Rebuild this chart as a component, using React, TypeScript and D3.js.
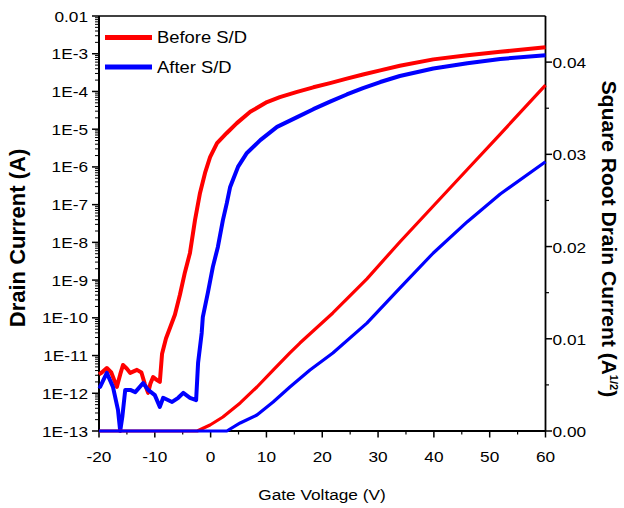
import React from "react";
import * as d3 from "d3";

// ---------- data ----------
const redLogV = [-20,-19.5,-18.6,-17.8,-16.8,-16.2,-15.7,-15.0,-14.4,-13.2,-12.4,-11.8,-11.2,-10.8,-10.3,-9.6,-9.1,-8.7,-8.0,-6.4,-5.5,-4.6,-3.7,-2.8,-1.9,-1.0,-0.1,1.15,2.9,4.7,7.1,10.1,12.4,15.5,18.4,21.4,24.4,27.3,30.4,33.9,39.9,46.0,51.9,60];
const redLogI = [-11.5,-11.45,-11.33,-11.45,-11.83,-11.5,-11.25,-11.35,-11.46,-11.38,-11.45,-11.75,-11.99,-11.75,-11.57,-11.65,-11.70,-10.95,-10.55,-9.92,-9.39,-8.79,-8.28,-7.41,-6.69,-6.16,-5.74,-5.37,-5.10,-4.84,-4.54,-4.28,-4.15,-4.01,-3.89,-3.78,-3.66,-3.55,-3.44,-3.32,-3.15,-3.04,-2.95,-2.83];
const blueLogV = [-20,-19.8,-18.6,-17.5,-16.6,-16.2,-15.8,-15.3,-14.4,-13.5,-12.1,-11.2,-10.0,-9.1,-8.5,-6.9,-5.8,-4.9,-3.7,-2.6,-2.25,-1.6,-1.4,-0.5,0.4,1.3,2.2,2.9,3.5,4.9,6.5,8.9,11.9,15.5,18.4,21.4,24.4,27.3,30.4,33.9,39.9,46.0,51.9,60];
const blueLogI = [-11.8,-11.83,-11.46,-11.83,-12.44,-13,-12.6,-11.91,-11.91,-11.97,-11.73,-11.91,-12.05,-12.36,-12.12,-12.23,-12.12,-11.99,-12.12,-12.18,-11.2,-10.4,-9.98,-9.34,-8.65,-8.12,-7.41,-6.96,-6.53,-6.00,-5.63,-5.29,-4.94,-4.68,-4.47,-4.27,-4.08,-3.91,-3.75,-3.59,-3.39,-3.25,-3.14,-3.04];
const redSqrtV = [-20,-2.4,-0.1,2.2,5.3,8.3,11.2,14.2,16.0,21.9,28.0,33.9,39.9,45.9,51.9,60];
const redSqrt = [0,0,0.00065,0.00152,0.00304,0.00477,0.00661,0.00846,0.00954,0.0128,0.0165,0.0205,0.0244,0.0283,0.0322,0.0375];
const blueSqrtV = [-20,2.9,5.3,8.3,11.2,14.2,17.8,21.9,28.0,33.9,39.9,46.0,51.9,60];
const blueSqrt = [0,0,0.00087,0.00174,0.00314,0.00477,0.00661,0.00846,0.0117,0.0155,0.0193,0.0227,0.0257,0.0292];

const xTicks = [-20,-10,0,10,20,30,40,50,60];
const xMinor = [-15,-5,5,15,25,35,45,55];
const leftTickExp = [-2,-3,-4,-5,-6,-7,-8,-9,-10,-11,-12,-13];
const leftTickLabels = ["0.01","1E-3","1E-4","1E-5","1E-6","1E-7","1E-8","1E-9","1E-10","1E-11","1E-12","1E-13"];
const rightTicks = [0,0.01,0.02,0.03,0.04];
const rightTickLabels = ["0.00","0.01","0.02","0.03","0.04"];
const rightMinor = [0.005,0.015,0.025,0.035];
const seriesNames = ["Before S/D","After S/D"];
const seriesColors = ["#ff0000","#0000ff"];

const FONT = "'Liberation Sans', Arial, sans-serif";

function T({x,y,anchor="start",size=15,sx=1.15,children,weight="normal"}:any){
  return <text transform={`translate(${x},${y}) scale(${sx},1)`} textAnchor={anchor} fontSize={size} fontFamily={FONT} fontWeight={weight} fill="#000">{children}</text>;
}

export default function App(){
  const L=99, R=545.5, TOP=16, B=431;
  const x = d3.scaleLinear().domain([-20,60]).range([L,R]);
  const yL = d3.scaleLog().domain([1e-13,1e-2]).range([B,TOP]);
  const yR = d3.scaleLinear().domain([0,0.045]).range([B,TOP]);

  const logLine = d3.line<[number,number]>().x(d=>x(d[0])).y(d=>yL(Math.pow(10,d[1])));
  const sqLine = d3.line<[number,number]>().x(d=>x(d[0])).y(d=>yR(d[1]));
  const zip=(a:number[],b:number[])=>a.map((v,i)=>[v,b[i]] as [number,number]);

  const minorLog:number[]=[];
  for(let e=-13;e<-2;e++){ for(let m=2;m<=9;m++) minorLog.push(m*Math.pow(10,e)); }

  return (
    <svg width={624} height={508} style={{position:"absolute",left:0,top:0,background:"#fff"}}>
      <rect x={0} y={0} width={624} height={508} fill="#fff"/>
      {/* frame */}
      <line x1={L} x2={R} y1={TOP} y2={TOP} stroke="#000" strokeWidth={1.5}/>
      <line x1={L} x2={L} y1={TOP} y2={B} stroke="#000" strokeWidth={2}/>
      <line x1={R} x2={R} y1={TOP} y2={B} stroke="#000" strokeWidth={1.8}/>
      <line x1={L} x2={R} y1={B} y2={B} stroke="#000" strokeWidth={2}/>
      {/* left ticks */}
      {minorLog.map((v,i)=><line key={"lm"+i} x1={L-4} x2={L} y1={yL(v)} y2={yL(v)} stroke="#000" strokeWidth={1}/>)}
      {leftTickExp.map((e,i)=>(
        <g key={"lt"+i}>
          <line x1={L-7} x2={L} y1={yL(Math.pow(10,e))} y2={yL(Math.pow(10,e))} stroke="#000" strokeWidth={1.5}/>
          <T x={L-11} y={yL(Math.pow(10,e))+5.5} anchor="end">{leftTickLabels[i]}</T>
        </g>
      ))}
      {/* bottom ticks */}
      {xMinor.map((v,i)=><line key={"bm"+i} x1={x(v)} x2={x(v)} y1={B} y2={B+3.5} stroke="#000" strokeWidth={1.2}/>)}
      {xTicks.map((v,i)=>(
        <g key={"bt"+i}>
          <line x1={x(v)} x2={x(v)} y1={B} y2={B+6.5} stroke="#000" strokeWidth={1.5}/>
          <T x={x(v)} y={B+31} anchor="middle">{String(v)}</T>
        </g>
      ))}
      {/* right ticks */}
      {rightMinor.map((v,i)=><line key={"rm"+i} x1={R} x2={R+3.5} y1={yR(v)} y2={yR(v)} stroke="#000" strokeWidth={1.2}/>)}
      {rightTicks.map((v,i)=>(
        <g key={"rt"+i}>
          <line x1={R} x2={R+6.5} y1={yR(v)} y2={yR(v)} stroke="#000" strokeWidth={1.5}/>
          <T x={R+7} y={yR(v)+6} anchor="start">{rightTickLabels[i]}</T>
        </g>
      ))}
      {/* axis titles */}
      <T x={322} y={500} anchor="middle">Gate Voltage (V)</T>
      <text transform="translate(25,238) rotate(-90)" textAnchor="middle" fontSize={22} fontWeight="bold" fontFamily={FONT}>Drain Current (A)</text>
      <text transform="translate(602,239) rotate(90)" textAnchor="middle" fontSize={21} fontWeight="bold" fontFamily={FONT}>
        Square Root Drain Current (A<tspan fontSize={11} dy={-8}>1/2</tspan><tspan dy={8}>)</tspan>
      </text>
      {/* data */}
      <path d={logLine(zip(redLogV,redLogI))!} fill="none" stroke={seriesColors[0]} strokeWidth={4} strokeLinejoin="round"/>
      <path d={logLine(zip(blueLogV,blueLogI))!} fill="none" stroke={seriesColors[1]} strokeWidth={4} strokeLinejoin="round"/>
      <path d={sqLine(zip(redSqrtV,redSqrt))!} fill="none" stroke={seriesColors[0]} strokeWidth={3.2} strokeLinejoin="round"/>
      <path d={sqLine(zip(blueSqrtV,blueSqrt))!} fill="none" stroke={seriesColors[1]} strokeWidth={3.2} strokeLinejoin="round"/>
      {/* legend */}
      {seriesNames.map((n,i)=>(
        <g key={"lg"+i}>
          <line x1={105} x2={152} y1={37.5+i*29.5} y2={37.5+i*29.5} stroke={seriesColors[i]} strokeWidth={5}/>
          <T x={157} y={43+i*29.5} size={16} anchor="start">{n}</T>
        </g>
      ))}
    </svg>
  );
}
